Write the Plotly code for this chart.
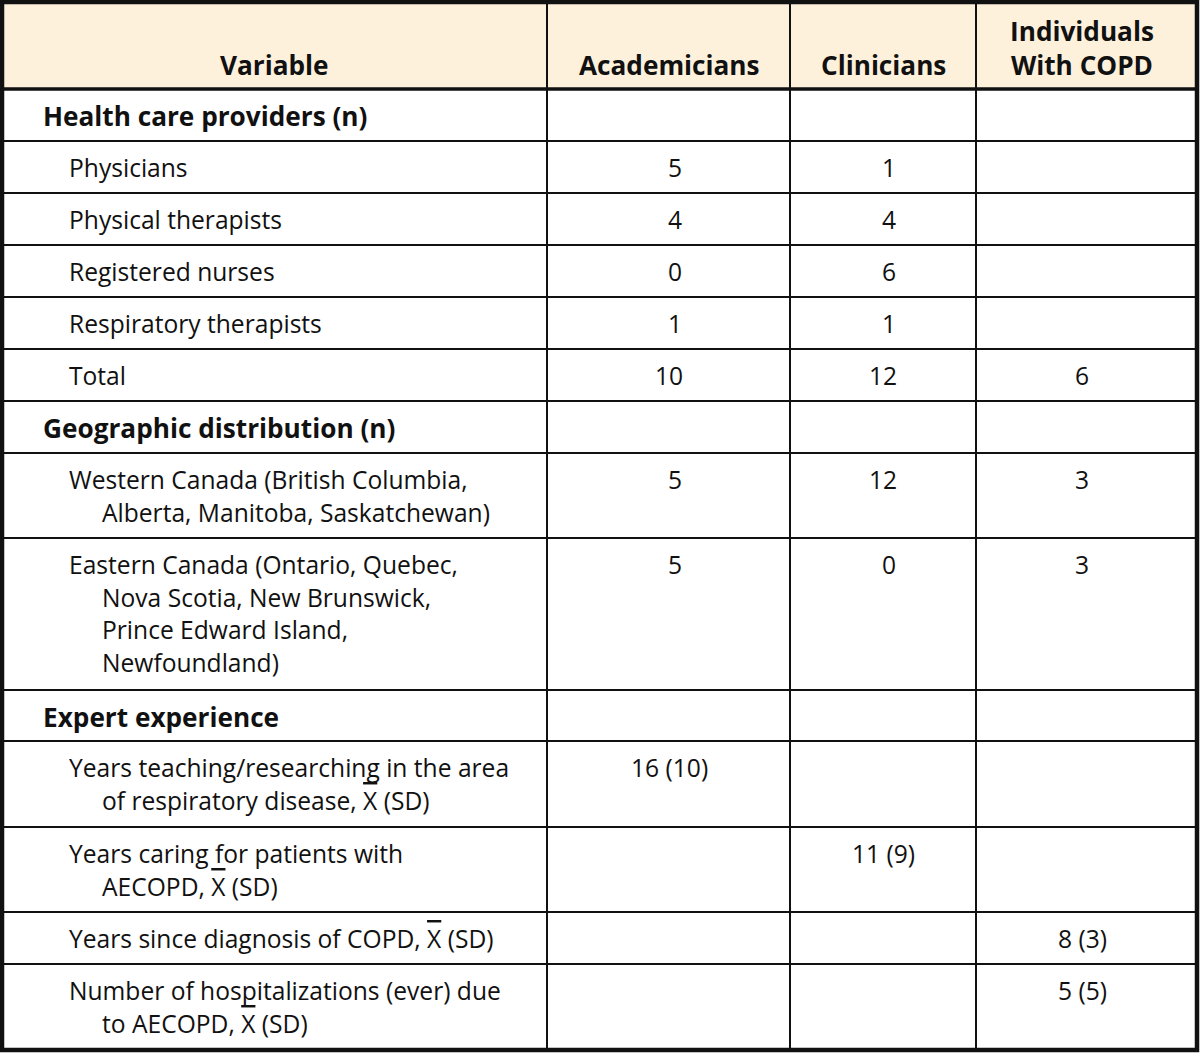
import plotly.graph_objects as go

# ---------------- data ----------------
columns = ["Variable", "Academicians", "Clinicians", "Individuals\nWith COPD"]

variables = [
    "Health care providers (n)",
    "Physicians",
    "Physical therapists",
    "Registered nurses",
    "Respiratory therapists",
    "Total",
    "Geographic distribution (n)",
    "Western Canada (British Columbia,\nAlberta, Manitoba, Saskatchewan)",
    "Eastern Canada (Ontario, Quebec,\nNova Scotia, New Brunswick,\nPrince Edward Island,\nNewfoundland)",
    "Expert experience",
    "Years teaching/researching in the area\nof respiratory disease, X\u0304 (SD)",
    "Years caring for patients with\nAECOPD, X\u0304 (SD)",
    "Years since diagnosis of COPD, X\u0304 (SD)",
    "Number of hospitalizations (ever) due\nto AECOPD, X\u0304 (SD)",
]
is_section = [True, False, False, False, False, False, True, False, False, True, False, False, False, False]

academicians = ["", "5", "4", "0", "1", "10", "", "5", "5", "", "16 (10)", "", "", ""]
clinicians = ["", "1", "4", "6", "1", "12", "", "12", "0", "", "", "11 (9)", "", ""]
copd = ["", "", "", "", "", "6", "", "3", "3", "", "", "", "8 (3)", "5 (5)"]

# ---------------- layout geometry (pixels) ----------------
W, H = 1200, 1053
col_edges = [2, 547, 790, 976, 1197]
value_centers = [669, 883, 1082]
single_digit_shift = [6, 6, 0]
header_top, header_bottom = 2, 89
row_edges = [89, 141, 193, 245, 297, 349, 401, 453, 538, 690, 741, 827, 912, 964, 1050]
line_h = 32.7
first_pad = 26.5
FONT = "Open Sans"
FS = 24.6
FS_B = 26.2
HEADER_BG = "#FEF1DC"
INK = "#111111"


def fmt(s):
    return s.replace("X\u0304", '<span style="text-decoration:overline">X</span>')


fig = go.Figure()
fig.add_trace(go.Scatter(x=[0, W], y=[0, H], mode="markers",
                         marker=dict(opacity=0), hoverinfo="skip", showlegend=False))

shapes = []
shapes.append(dict(type="rect", xref="x", yref="y", x0=col_edges[0], x1=col_edges[-1],
                   y0=header_top, y1=header_bottom, fillcolor=HEADER_BG, line=dict(width=0),
                   layer="below"))
for i, y in enumerate(row_edges):
    if i == len(row_edges) - 1:
        continue
    w = 3.5 if i == 0 else 2
    shapes.append(dict(type="line", xref="x", yref="y", x0=col_edges[0], x1=col_edges[-1],
                       y0=y, y1=y, line=dict(color=INK, width=w)))
for x in col_edges[1:-1]:
    shapes.append(dict(type="line", xref="x", yref="y", x0=x, x1=x,
                       y0=header_top, y1=row_edges[-1], line=dict(color=INK, width=2)))
shapes.append(dict(type="rect", xref="x", yref="y", x0=col_edges[0], x1=col_edges[-1],
                   y0=header_top, y1=row_edges[-1], line=dict(color=INK, width=4.5),
                   fillcolor="rgba(0,0,0,0)"))

annotations = []
header_bottom_text = 85   # bottom edge of header text block
header_centers = [(col_edges[0] + col_edges[1]) / 2] + value_centers
for ci, name in enumerate(columns):
    txt = "<br>".join("<b>" + ln + "</b>" for ln in name.split("\n"))
    annotations.append(dict(x=header_centers[ci], y=header_bottom_text, xref="x", yref="y",
                            text=txt, showarrow=False, xanchor="center", yanchor="bottom",
                            align="center",
                            font=dict(family=FONT, size=FS_B, color=INK, weight=800)))

value_cols = [academicians, clinicians, copd]
for ri, label in enumerate(variables):
    top = row_edges[ri]
    lines = label.split("\n")
    for li, ln in enumerate(lines):
        yy = top + first_pad + li * line_h
        if is_section[ri]:
            x = 41
            txt = "<b>" + fmt(ln) + "</b>"
            font = dict(family=FONT, size=FS_B, color=INK, weight=800)
        else:
            x = 67 if li == 0 else 100
            txt = fmt(ln)
            font = dict(family=FONT, size=FS, color=INK)
        annotations.append(dict(x=x, y=yy, xref="x", yref="y", text=txt, showarrow=False,
                                xanchor="left", yanchor="middle", font=font))
    for ci, vals in enumerate(value_cols):
        v = vals[ri]
        if v:
            shift = single_digit_shift[ci] if len(v) == 1 else 0
            annotations.append(dict(x=value_centers[ci], y=top + first_pad, xref="x", yref="y",
                                    text=v, xshift=shift, showarrow=False,
                                    xanchor="center", yanchor="middle",
                                    font=dict(family=FONT, size=FS, color=INK)))

fig.update_layout(
    width=W, height=H,
    margin=dict(l=0, r=0, t=0, b=0),
    paper_bgcolor="white", plot_bgcolor="white",
    xaxis=dict(range=[0, W], visible=False, fixedrange=True),
    yaxis=dict(range=[H, 0], visible=False, fixedrange=True),
    shapes=shapes, annotations=annotations, showlegend=False,
)

fig.write_html("out.html", config={"displayModeBar": False},
               post_script="document.body.style.margin='0';document.body.style.overflow='hidden';")
